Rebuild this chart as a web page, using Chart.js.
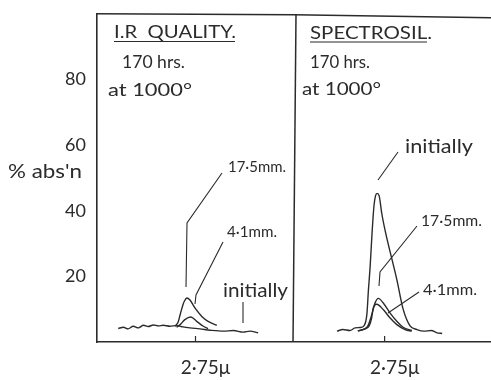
<!DOCTYPE html>
<html>
<head>
<meta charset="utf-8">
<script src="https://cdn.jsdelivr.net/npm/chart.js@4.4.1/dist/chart.umd.min.js"></script>
<style>
  html, body { margin: 0; padding: 0; background: #fff; }
  #wrap { width: 491px; height: 380px; }
</style>
</head>
<body>
<div id="wrap"><canvas id="absChart" width="491" height="380"></canvas></div>
<script>
// two panels share one linear x axis: panel 0 = 0..1, panel 1 = 1..2
const panelTitles = ['I.R  QUALITY.', 'SPECTROSIL.'];
const panelStart = [2.50, 2.52];   // wavelength (μ) at left edge of each panel
const panelSpan = 0.5;             // μ across one panel
const tickWavelength = 2.75;
const tickText = '2·75μ';
const yTickValues = [20, 40, 60, 80];

// I.R. quality silica
const irInitialWl = [2.554, 2.567, 2.579, 2.592, 2.605, 2.618, 2.630, 2.643, 2.656, 2.668, 2.685, 2.702, 2.718, 2.736, 2.761, 2.787, 2.821, 2.846, 2.871, 2.888, 2.909];
const irInitialAbs = [4.1, 4.5, 4.0, 4.8, 4.3, 5.1, 4.7, 5.2, 4.9, 5.1, 4.8, 5.0, 4.6, 4.3, 4.0, 3.6, 3.3, 3.5, 3.0, 3.3, 2.8];
const ir175Wl = [2.698, 2.706, 2.711, 2.718, 2.722, 2.728, 2.736, 2.749, 2.766, 2.782, 2.804];
const ir175Abs = [4.8, 6.1, 8.3, 11.3, 12.5, 13.4, 12.8, 10.3, 7.8, 6.3, 5.1];
const ir41Wl = [2.702, 2.711, 2.723, 2.738, 2.753, 2.770, 2.782];
const ir41Abs = [4.5, 5.3, 6.8, 7.6, 6.3, 4.8, 4.1];

// Spectrosil
const spInitialWl = [2.629, 2.644, 2.662, 2.675, 2.688, 2.698, 2.705, 2.709, 2.713, 2.718, 2.723, 2.727, 2.731, 2.736, 2.743, 2.753, 2.769, 2.781, 2.797, 2.814, 2.832, 2.850, 2.868, 2.883, 2.896];
const spInitialAbs = [3.3, 3.8, 3.5, 4.3, 4.4, 5.0, 8.5, 16, 22.5, 33, 41.5, 44.6, 45.3, 44.6, 39, 33, 25, 19, 10, 5, 3.8, 3.3, 3.5, 2.8, 2.6];
const sp175Wl = [2.682, 2.698, 2.708, 2.714, 2.720, 2.726, 2.734, 2.747, 2.764, 2.781, 2.797, 2.819];
const sp175Abs = [3.4, 3.9, 5.0, 7.0, 9.5, 12.0, 13.3, 11.8, 8.8, 6.3, 4.5, 3.5];
const sp41Wl = [2.682, 2.698, 2.711, 2.717, 2.721, 2.730, 2.747, 2.764, 2.781, 2.802, 2.819];
const sp41Abs = [3.4, 3.9, 5.0, 7.3, 10.3, 11.5, 9.8, 7.3, 5.3, 3.8, 3.3];

const INK = '#2b2b2b';
const FONT = 'Lato, "Open Sans", sans-serif';

function toAxis(panel, wl) {
  return panel + (wl - panelStart[panel]) / panelSpan;
}

function curve(panel, wls, vals) {
  return {
    data: wls.map((w, i) => ({ x: toAxis(panel, w), y: vals[i] })),
    borderColor: INK,
    borderWidth: 1.4,
    pointRadius: 0,
    fill: false,
    cubicInterpolationMode: 'monotone'
  };
}

// draw text squeezed/stretched to a given width
function fitText(ctx, str, x, y, w, size) {
  ctx.font = size + 'px ' + FONT;
  const m = ctx.measureText(str).width;
  ctx.save();
  ctx.translate(x, y);
  ctx.scale(w / m, 1);
  ctx.fillText(str, 0, 0);
  ctx.restore();
}

function polyline(ctx, pts) {
  ctx.beginPath();
  ctx.moveTo(pts[0][0], pts[0][1]);
  for (let i = 1; i < pts.length; i++) ctx.lineTo(pts[i][0], pts[i][1]);
  ctx.stroke();
}

const figureNotes = {
  id: 'figureNotes',
  afterDraw(chart) {
    const ctx = chart.ctx;
    const area = chart.chartArea;
    const xs = chart.scales.x;
    ctx.save();
    ctx.strokeStyle = INK;
    ctx.fillStyle = INK;
    ctx.textAlign = 'left';
    ctx.textBaseline = 'alphabetic';

    // frame: top edge and panel divider
    ctx.lineWidth = 1.5;
    const mid = xs.getPixelForValue(1);
    polyline(ctx, [[area.left, area.top], [mid, area.top + 1], [area.right, area.top + 4]]);
    polyline(ctx, [[mid + 2, area.top + 1], [mid - 1, area.bottom]]);

    // small inward ticks at 2.75 μ
    ctx.lineWidth = 1.2;
    [0, 1].forEach(p => {
      const px = xs.getPixelForValue(toAxis(p, tickWavelength));
      polyline(ctx, [[px, area.bottom], [px, area.bottom - 6]]);
    });

    // panel headings
    fitText(ctx, panelTitles[0], 114, 38, 122, 18);
    fitText(ctx, panelTitles[1], 310, 39, 122, 18);
    ctx.lineWidth = 1.1;
    polyline(ctx, [[114, 41.5], [235, 41.5]]);
    polyline(ctx, [[310, 42], [427, 42]]);

    fitText(ctx, '170 hrs.', 122, 68, 63, 18);
    fitText(ctx, 'at 1000°', 108, 96, 84, 18);
    fitText(ctx, '170 hrs.', 310, 68, 60, 18);
    fitText(ctx, 'at 1000°', 302, 95, 79, 18);

    // y title
    fitText(ctx, "% abs'n", 8, 178, 74, 20);

    // curve labels and leaders
    fitText(ctx, '17·5mm.', 228, 172, 58, 15);
    fitText(ctx, '4·1mm.', 227, 237, 50, 15);
    fitText(ctx, 'initially', 223, 297, 65, 19);
    fitText(ctx, 'initially', 405, 153, 68, 19);
    fitText(ctx, '17·5mm.', 421, 226, 61, 16);
    fitText(ctx, '4·1mm.', 423, 295, 54, 16);

    ctx.lineWidth = 1.1;
    polyline(ctx, [[222, 173], [187, 223], [186, 287]]);
    polyline(ctx, [[223, 242], [196, 295], [195, 304]]);
    polyline(ctx, [[243, 302], [243, 323]]);
    polyline(ctx, [[398, 152], [378, 180]]);
    polyline(ctx, [[417, 226], [380, 272], [379, 286]]);
    polyline(ctx, [[419, 292], [388, 313]]);

    ctx.restore();
  }
};

new Chart(document.getElementById('absChart'), {
  type: 'line',
  data: {
    datasets: [
      curve(0, irInitialWl, irInitialAbs),
      curve(0, ir175Wl, ir175Abs),
      curve(0, ir41Wl, ir41Abs),
      curve(1, spInitialWl, spInitialAbs),
      curve(1, sp175Wl, sp175Abs),
      curve(1, sp41Wl, sp41Abs)
    ]
  },
  options: {
    responsive: false,
    animation: false,
    layout: { padding: { top: 7, right: 0, left: 0, bottom: 0 } },
    plugins: { legend: { display: false }, tooltip: { enabled: false } },
    scales: {
      x: {
        type: 'linear',
        min: 0,
        max: 2,
        afterFit(scale) { scale.height = 38; },
        afterBuildTicks(scale) {
          scale.ticks = [0, 1].map(p => ({ value: toAxis(p, tickWavelength) }));
        },
        grid: { display: false },
        border: { display: true, color: INK, width: 1.6 },
        ticks: {
          callback: () => tickText,
          color: INK,
          font: { family: FONT, size: 19 },
          padding: 6,
          labelOffset: 10,
          maxRotation: 0
        }
      },
      y: {
        min: 0,
        max: 100,
        afterFit(scale) { scale.width = 97; },
        afterBuildTicks(scale) {
          scale.ticks = yTickValues.map(v => ({ value: v }));
        },
        grid: { display: false },
        border: { display: true, color: INK, width: 1.6 },
        ticks: {
          color: INK,
          font: { family: FONT, size: 18 },
          padding: 3
        }
      }
    }
  },
  plugins: [figureNotes]
});
</script>
</body>
</html>
